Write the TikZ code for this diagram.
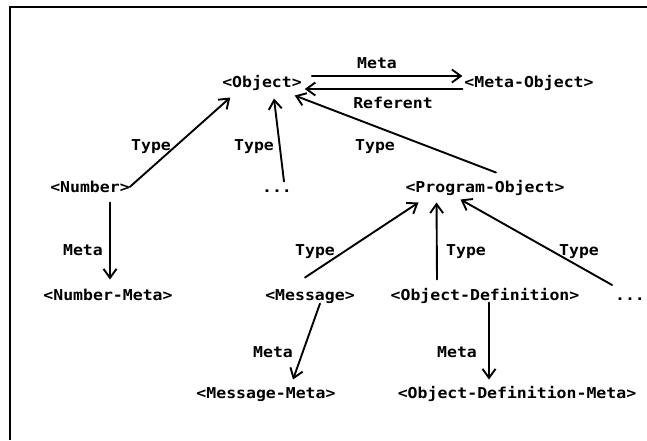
\documentclass[tikz,border=0pt]{standalone}
\usepackage{fontspec}
\newfontfamily\dotfont[FakeStretch=1.1]{DejaVu Sans Mono}
\usetikzlibrary{arrows.meta,calc}

\tikzset{
  term/.style={inner sep=0pt, outer sep=0pt, text height=11pt, text depth=0pt,
               font=\dotfont\bfseries\fontsize{15}{18}\selectfont},
  lbl/.style={term},
  link/.style={line width=1.9pt, line cap=round,
               -{Straight Barb[length=9pt,width=13pt,line width=1.9pt]}},
  frame/.style={line width=1.6pt}
}

\begin{document}
\begin{tikzpicture}[x=1pt, y=-1pt]
  \useasboundingbox (0,0) rectangle (647,440);
  \draw[frame] (10,440) -- (10,7) -- (647,7);

  % terms
  \node[term] (obj)     at (262,82)  {<Object>};
  \node[term] (metaobj) at (529,82)  {<Meta-Object>};
  \node[term] (number)  at (90,187)  {<Number>};
  \node[term] (dotsA)   at (277,187) {...};
  \node[term] (prog)    at (485,187) {<Program-Object>};
  \node[term] (nummeta) at (108,295) {<Number-Meta>};
  \node[term] (msg)     at (310,295) {<Message>};
  \node[term] (objdef)  at (485,295) {<Object-Definition>};
  \node[term] (dotsB)   at (630,295) {...};
  \node[term] (msgmeta) at (266,393) {<Message-Meta>};
  \node[term] (odmeta)  at (517,393) {<Object-Definition-Meta>};

  % link labels
  \node[lbl] (lmeta)  at (377,63)  {Meta};
  \node[lbl] (lref)   at (393,103) {Referent};
  \node[lbl] (ltypeA) at (151,145) {Type};
  \node[lbl] (ltypeB) at (254,145) {Type};
  \node[lbl] (ltypeC) at (375,145) {Type};
  \node[lbl] (lmetaA) at (83,250)  {Meta};
  \node[lbl] (ltypeD) at (315,250) {Type};
  \node[lbl] (ltypeE) at (466,250) {Type};
  \node[lbl] (ltypeF) at (579,250) {Type};
  \node[lbl] (lmetaB) at (273,352) {Meta};
  \node[lbl] (lmetaC) at (457,352) {Meta};

  % Meta / Referent pair
  \draw[link] ($(obj.east)+(10,-6)$) -- ($(metaobj.west)+(-2,-6)$);
  \draw[link] ($(metaobj.west)+(-2,7)$) -- ($(obj.east)+(3,7)$);

  % Type links into <Object>
  \draw[link] (number.east) -- ($(obj.south west)+(8,10)$);
  \draw[link] ($(dotsA.north)+(7,0)$) -- ($(obj.south)+(12,11)$);
  \draw[link] ($(prog.north)+(11,-9)$) -- ($(obj.south east)+(-7,8)$);

  % Type links into <Program-Object>
  \draw[link] ($(msg.north)+(-5,-12)$) -- ($(prog.south west)+(13,10)$);
  \draw[link] ($(objdef.north)+(-48,-10)$) -- ($(prog.south west)+(31,10)$);
  \draw[link] ($(dotsB.west)+(-3,-10)$) -- ($(prog.south west)+(55,7)$);

  % Meta links
  \draw[link] ($(number.south)+(20,10)$) -- ($(nummeta.north)+(2,-10)$);
  \draw[link] ($(msg.south)+(10,3)$) -- ($(msgmeta.north)+(27,-8)$);
  \draw[link] ($(objdef.south)+(4,2)$) -- ($(odmeta.north)+(-28,-8)$);
\end{tikzpicture}
\end{document}
